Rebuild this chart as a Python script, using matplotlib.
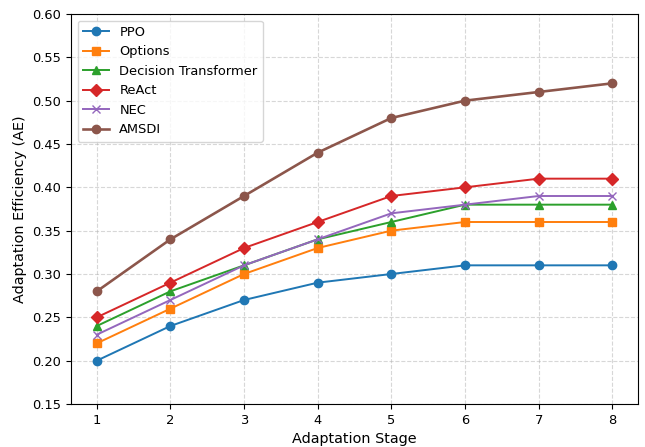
import matplotlib
matplotlib.use("Agg")
import matplotlib.pyplot as plt

stages = [1, 2, 3, 4, 5, 6, 7, 8]
ppo = [0.20, 0.24, 0.27, 0.29, 0.30, 0.31, 0.31, 0.31]
options = [0.22, 0.26, 0.30, 0.33, 0.35, 0.36, 0.36, 0.36]
dt = [0.24, 0.28, 0.31, 0.34, 0.36, 0.38, 0.38, 0.38]
react = [0.25, 0.29, 0.33, 0.36, 0.39, 0.40, 0.41, 0.41]
nec = [0.23, 0.27, 0.31, 0.34, 0.37, 0.38, 0.39, 0.39]
amsdi = [0.28, 0.34, 0.39, 0.44, 0.48, 0.50, 0.51, 0.52]

s = 0.94
plt.rcParams['font.size'] = 10 * s
plt.rcParams['lines.linewidth'] = 1.5 * s
plt.rcParams['lines.markersize'] = 6

fig = plt.figure(figsize=(6.45, 4.47), dpi=100)
ax = fig.add_axes([71/645, 1-404/447, (638-71)/645, (404-14)/447])

ax.plot(stages, ppo, marker='o', label='PPO', color='#1f77b4')
ax.plot(stages, options, marker='s', label='Options', color='#ff7f0e')
ax.plot(stages, dt, marker='^', label='Decision Transformer', color='#2ca02c')
ax.plot(stages, react, marker='D', label='ReAct', color='#d62728')
ax.plot(stages, nec, marker='x', label='NEC', color='#9467bd')
ax.plot(stages, amsdi, marker='o', label='AMSDI', color='#8c564b', linewidth=2 * s)

ax.set_ylim(0.15, 0.60)
ax.set_yticks([0.15, 0.20, 0.25, 0.30, 0.35, 0.40, 0.45, 0.50, 0.55, 0.60])
ax.set_xticks(stages)
ax.set_xlabel('Adaptation Stage', fontsize=11 * s)
ax.set_ylabel('Adaptation Efficiency (AE)', fontsize=11 * s)
ax.grid(True, linestyle='--', alpha=0.5)
ax.legend(loc='upper left')

fig.savefig('out.png', dpi=100)
